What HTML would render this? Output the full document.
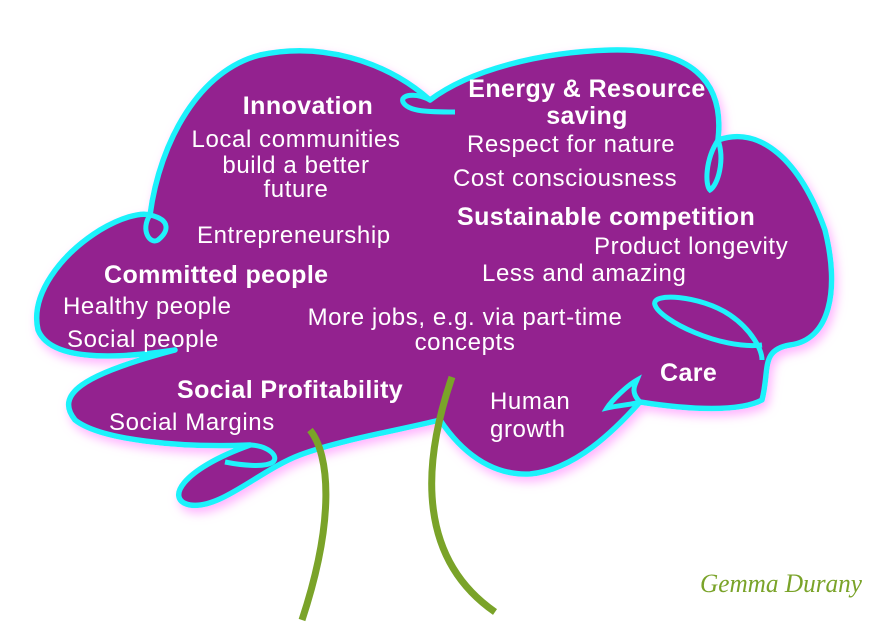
<!DOCTYPE html>
<html><head><meta charset="utf-8"><style>
html,body{margin:0;padding:0;background:#fff;}
svg{display:block}
.t{font-family:"Liberation Sans",sans-serif;fill:#fff;font-size:24px;letter-spacing:0.6px}
.b{font-weight:bold;font-size:25px;letter-spacing:0.4px}
</style></head><body>
<svg width="881" height="641" viewBox="0 0 881 641">
<defs>
<filter id="glow" x="-10%" y="-10%" width="120%" height="120%">
<feGaussianBlur in="SourceAlpha" stdDeviation="5"/>
<feOffset dx="3" dy="5" result="b"/>
<feFlood flood-color="#ff80ff" flood-opacity="0.6"/>
<feComposite in2="b" operator="in"/>
<feMerge><feMergeNode/><feMergeNode in="SourceGraphic"/></feMerge>
</filter>
</defs>
<path filter="url(#glow)" fill="#93218f" stroke="#1ff2fb" stroke-width="5.5" stroke-linejoin="round"
d="M150,215 C160,140 200,70 260,55 C320,42 385,60 430,100 C470,70 540,52 610,50 C690,48 725,80 718,140
C760,125 800,160 825,230 C840,290 830,340 790,345 C760,350 770,370 762,400 C740,412 690,410 640,402
C615,430 575,470 530,474 C490,476 460,450 440,420 C400,430 340,440 300,455 C260,470 220,510 190,505
C165,500 180,470 250,445 C180,448 100,440 75,420 C55,395 80,375 175,350 C110,360 50,360 38,330
C30,295 60,255 100,230 C120,218 140,212 150,215 Z"/>
<g fill="none" stroke="#1ff2fb" stroke-width="5">
<path d="M150,215 C140,230 150,245 158,240 C168,232 172,220 150,215"/>
<path d="M430,100 C415,92 400,95 403,102 C408,112 430,112 455,112"/>
<path d="M718,140 C705,160 705,185 710,190 C718,185 725,160 718,140"/>
<path d="M762,345 C720,350 660,320 655,305 C650,292 700,295 730,315 C752,330 762,350 762,360"/>
<path d="M640,402 C630,392 635,385 637,380 C628,385 612,400 607,408 C620,405 630,405 640,402"/>
<path d="M250,445 C265,445 280,455 273,462 C265,468 240,465 225,462"/>
</g>
<g fill="none" stroke="#7aa329" stroke-width="7">
<path d="M310,430 C330,455 335,520 302,620"/>
<path d="M452,377 C420,470 420,560 495,612"/>
</g>
<g class="t">
<text class="b" x="308" y="114" text-anchor="middle">Innovation</text>
<text x="296" y="147" text-anchor="middle">Local communities</text>
<text x="296" y="173" text-anchor="middle">build a better</text>
<text x="296" y="197" text-anchor="middle">future</text>
<text x="197" y="243">Entrepreneurship</text>
<text class="b" x="104" y="283">Committed people</text>
<text x="63" y="314">Healthy people</text>
<text x="67" y="347">Social people</text>
<text class="b" x="177" y="398">Social Profitability</text>
<text x="109" y="430">Social Margins</text>
<text class="b" x="587" y="97" text-anchor="middle">Energy &amp; Resource</text>
<text class="b" x="587" y="124" text-anchor="middle">saving</text>
<text x="467" y="152">Respect for nature</text>
<text x="453" y="186">Cost consciousness</text>
<text class="b" x="457" y="225">Sustainable competition</text>
<text x="594" y="254">Product longevity</text>
<text x="482" y="281">Less and amazing</text>
<text x="465" y="325" text-anchor="middle">More jobs, e.g. via part-time</text>
<text x="465" y="350" text-anchor="middle">concepts</text>
<text class="b" x="660" y="381">Care</text>
<text x="490" y="409">Human</text>
<text x="490" y="437">growth</text>
</g>
<text x="700" y="592" textLength="162" lengthAdjust="spacingAndGlyphs" font-family="'Liberation Serif',serif" font-style="italic" font-size="26" fill="#7aa329">Gemma Durany</text>
</svg>
</body></html>
